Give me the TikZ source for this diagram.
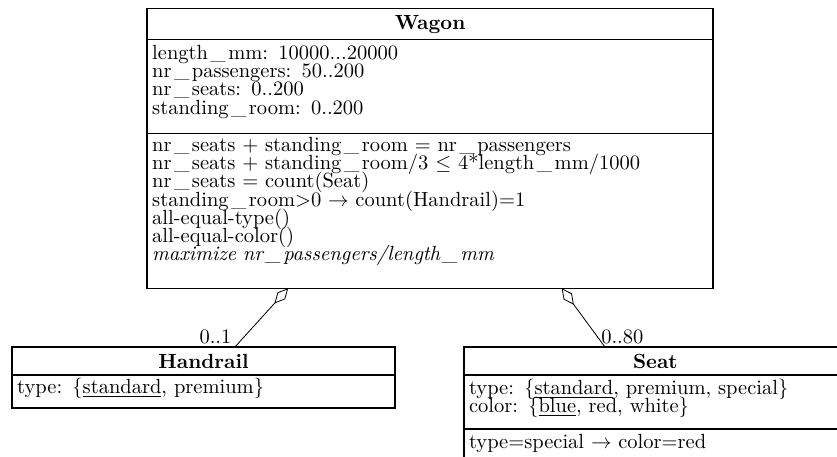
\documentclass[tikz,border=0pt]{standalone}
\usepackage{fontspec}
\usepackage{tikz}
\usetikzlibrary{shapes.geometric, arrows.meta, positioning}
\newcommand{\classfont}{\fontsize{10}{8.9}\selectfont\lineskiplimit=-10pt\relax}
\newcommand{\us}{\kern1.2pt\_\kern1.2pt}
\tikzstyle{classname} = [rectangle, draw=black, semithick, inner xsep=2.5pt, inner ysep=0pt, outer sep=0pt, align=center, font=\bfseries]
\tikzstyle{classbody} = [rectangle, draw=black, semithick, inner xsep=2.5pt, inner ysep=0pt, outer sep=0pt, align=left, font=\classfont]
\tikzstyle{aggregation} = [thin, {Diamond[open,length=10pt,width=5pt]}-]
\tikzstyle{mult} = [inner sep=1.5pt, font=\classfont]

\begin{document}
\begin{tikzpicture}
\useasboundingbox (0,0) rectangle (408.3pt,-222.9pt);

\node (wagon) [classname, text width=271.1pt, text height=10.2pt, text depth=5pt] at (209.8pt,-11.6pt) {Wagon};
\node (wagonattr) [classbody, text width=271.1pt, text height=9.8pt, text depth=36pt, below=0pt of wagon] {length\us mm: 10000...20000\\nr\us passengers: 50..200\\nr\us seats: 0..200\\standing\us room: 0..200};
\node (wagoncons) [classbody, text width=271.1pt, text height=8.9pt, text depth=66.7pt, below=0pt of wagonattr] {nr\us seats $+$ standing\us room $=$ nr\us passengers\\nr\us seats $+$ standing\us room/3 $\leq$ 4*length\us mm/1000\\nr\us seats $=$ count(Seat)\\standing\us room$>$0 $\rightarrow$ count(Handrail)=1\\all-equal-type()\\all-equal-color()\\\textit{maximize nr\us passengers/length\us mm}};

\node (handrail) [classname, text width=181.8pt, text height=10.3pt, text depth=3.4pt] at (99.3pt,-176.1pt) {Handrail};
\node (handrailattr) [classbody, text width=181.8pt, text height=8.9pt, text depth=7.2pt, below=0pt of handrail] {type: \{\underline{standard}, premium\}};

\node (seat) [classname, text width=181.8pt, text height=10.3pt, text depth=3.4pt, right=33.6pt of handrail] {Seat};
\node (seatattr) [classbody, text width=181.8pt, text height=9.3pt, text depth=17pt, below=0pt of seat] {type: \{\underline{standard}, premium, special\}\\color: \{\underline{blue}, red, white\}};
\node (seatcons) [classbody, text width=181.8pt, text height=9.3pt, text depth=6.8pt, below=0pt of seatattr] {type=special $\rightarrow$ color=red};

\draw[aggregation] ([xshift=-69.2pt]wagoncons.south) -- ([xshift=15.3pt]handrail.north) node[mult, anchor=south east] {0..1};
\draw[aggregation] ([xshift=64.2pt]wagoncons.south) -- ([xshift=-24.6pt]seat.north) node[mult, anchor=south west, xshift=-3.5pt] {0..80};
\end{tikzpicture}
\end{document}
